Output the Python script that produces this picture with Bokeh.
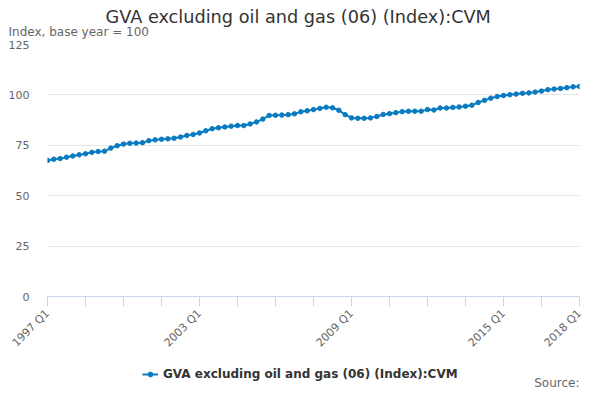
import math
from bokeh.plotting import figure
from bokeh.layouts import column
from bokeh.models import Range1d, FixedTicker, Title, Legend, LegendItem, Label
from bokeh.embed import file_html
from bokeh.resources import INLINE

# quarterly periods 1997 Q1 .. 2018 Q1
quarters = [f"{yr} Q{q}" for yr in range(1997, 2019) for q in range(1, 5)][:85]

gva = [
    67.5, 68.1, 68.4, 69.1, 69.7, 70.3, 70.8, 71.5, 71.9, 72.1,
    73.6, 74.8, 75.6, 76.0, 76.1, 76.3, 77.3, 77.7, 78.0, 78.2,
    78.5, 79.1, 79.9, 80.4, 81.1, 82.2, 83.2, 83.7, 84.1, 84.5,
    84.8, 84.8, 85.6, 86.6, 88.0, 89.8, 89.9, 90.0, 90.2, 90.6,
    91.6, 92.1, 92.7, 93.3, 93.9, 93.6, 92.4, 90.2, 88.6, 88.4,
    88.4, 88.6, 89.3, 90.3, 90.7, 91.2, 91.7, 91.9, 91.9, 91.9,
    92.7, 92.5, 93.5, 93.5, 93.8, 94.0, 94.4, 94.9, 96.2, 97.3,
    98.4, 99.2, 99.7, 100.1, 100.4, 100.8, 101.0, 101.4, 101.9, 102.6,
    102.9, 103.2, 103.6, 104.0, 104.2,
]

y_ticks = [0, 25, 50, 75, 100, 125]
x_tick_step = 6
labelled = ["1997 Q1", "2003 Q1", "2009 Q1", "2015 Q1", "2018 Q1"]

title_text = "GVA excluding oil and gas (06) (Index):CVM"
subtitle_text = "Index, base year = 100"
series_name = "GVA excluding oil and gas (06) (Index):CVM"
source_text = "Source:"

font = "DejaVu Sans"
blue = "#0b7bc1"

x = list(range(len(quarters)))
n = len(quarters) - 1

FW, FH = 532, 252
TOP, BOTTOM = 44, 56
p = figure(frame_width=FW, frame_height=FH, output_backend="svg", toolbar_location=None,
           x_range=Range1d(0, n), y_range=Range1d(0, 125),
           min_border_left=47, min_border_right=5, min_border_top=TOP,
           min_border_bottom=BOTTOM)
p.outline_line_color = None
p.border_fill_color = "white"

line = p.line(x, gva, line_color=blue, line_width=2)
dots = p.scatter(x, gva, size=4.5, fill_color=blue, line_color=blue)

# x axis
xt = list(range(0, n + 1, x_tick_step))
p.xaxis.ticker = FixedTicker(ticks=xt)
p.xaxis.major_label_overrides = {t: (quarters[t] if quarters[t] in labelled else "") for t in xt}
p.xaxis.major_label_orientation = math.pi / 4
p.xaxis.axis_line_color = "#ccd6eb"
p.xaxis.major_tick_line_color = "#ccd6eb"
p.xaxis.major_tick_out = 10
p.xaxis.major_tick_in = 0
p.xaxis.minor_tick_line_color = None
p.xaxis.major_label_text_font = font
p.xaxis.major_label_text_font_size = "11px"
p.xaxis.major_label_text_color = "#666666"
p.xaxis.major_label_standoff = 5

# y axis
p.yaxis.ticker = FixedTicker(ticks=y_ticks)
p.yaxis.axis_line_color = None
p.yaxis.major_tick_line_color = None
p.yaxis.major_tick_out = 0
p.yaxis.minor_tick_line_color = None
p.yaxis.major_label_text_font = font
p.yaxis.major_label_text_font_size = "11px"
p.yaxis.major_label_text_color = "#666666"
p.yaxis.major_label_standoff = 18

p.xgrid.grid_line_color = None
p.ygrid.grid_line_color = "#e6e6e6"

# titles (added nearest-first)
p.add_layout(Title(text=subtitle_text, align="left", offset=-39, standoff=12,
                   text_font=font, text_font_size="12px", text_font_style="normal",
                   text_color="#666666"), "above")
p.add_layout(Title(text=title_text, align="left", offset=58, standoff=-21,
                   text_font=font, text_font_size="17.7px", text_font_style="normal",
                   text_color="#333333"), "above")

# legend strip below the chart (its frame lines up with the chart frame)
H2 = 384 - (TOP + FH + BOTTOM)
p2 = figure(width=584, height=H2, output_backend="svg", toolbar_location=None,
            x_range=Range1d(0, FW), y_range=Range1d(0, H2),
            x_axis_location=None, y_axis_location=None, min_border=0)
p2.outline_line_color = None
p2.grid.visible = False
# same series, lying outside this strip's view, so the legend has glyphs to show
leg_line = p2.line(x, gva, line_color=blue, line_width=2)
leg_dot = p2.scatter(x, gva, size=4.5, fill_color=blue, line_color=blue)

legend = Legend(items=[LegendItem(label=series_name, renderers=[leg_line, leg_dot])],
                location=(95, 8), orientation="horizontal",
                padding=0, margin=0, spacing=0, glyph_width=16, glyph_height=12,
                label_standoff=5, background_fill_alpha=0, border_line_color=None,
                label_text_font=font, label_text_font_size="12px",
                label_text_font_style="bold", label_text_color="#333333")
p2.add_layout(legend)
p2.add_layout(Label(x=FW, y=0, text=source_text, text_align="right",
                    text_baseline="bottom", text_font=font, text_font_size="12px",
                    text_color="#666666"))

open("out.html", "w").write(file_html(column(p, p2), INLINE))
